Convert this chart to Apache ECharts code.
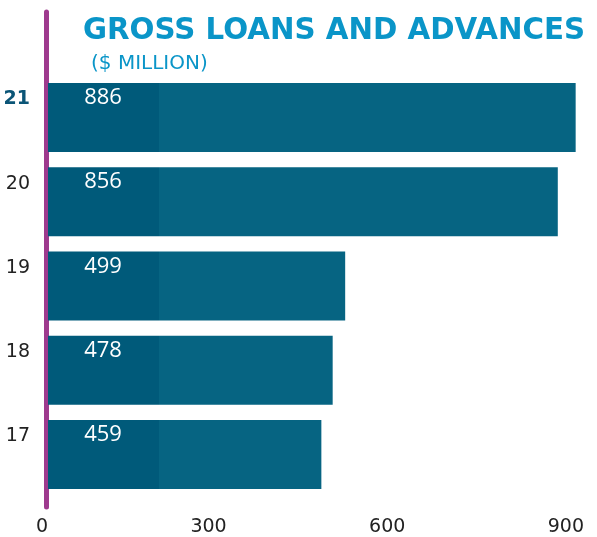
<!DOCTYPE html>
<html>
<head>
<meta charset="utf-8">
<title>Gross Loans and Advances</title>
<script src="https://cdn.jsdelivr.net/npm/echarts@6/dist/echarts.min.js"></script>
<style>
  html, body { margin: 0; padding: 0; background: #ffffff; }
  #chart { width: 597px; height: 537px; }
</style>
</head>
<body>
<div id="chart"></div>
<script>
// Financial years (bottom to top) and gross loans in $ million
const years = ['17', '18', '19', '20', '21'];
const loans = [459, 478, 499, 856, 886];
const latestYear = '21';

// Value axis range
const axisMin = 0;
const axisMax = 900;
const axisStep = 300;

const mainBlue = '#066482';
const darkBlue = '#005a7a';
const titleBlue = '#0a95c8';
const accent = '#9e3a8e';
const font = 'DejaVu Sans';

const chart = echarts.init(document.getElementById('chart'), null, { renderer: 'canvas' });

// Bars have a darker band at their base, drawn with a hard-stop gradient
const barFill = new echarts.graphic.LinearGradient(0, 0, 597, 0, [
  { offset: 0, color: darkBlue },
  { offset: 159 / 597, color: darkBlue },
  { offset: 159 / 597, color: mainBlue },
  { offset: 1, color: mainBlue }
], true);

chart.setOption({
  animation: false,
  title: [
    {
      text: 'GROSS LOANS AND ADVANCES',
      left: 78,
      top: 12,
      textStyle: { color: titleBlue, fontFamily: font, fontWeight: 'bold', fontSize: 29.3 }
    },
    {
      text: '($ MILLION)',
      left: 86,
      top: 49,
      textStyle: { color: titleBlue, fontFamily: font, fontWeight: 'normal', fontSize: 20 }
    }
  ],
  grid: [
    { left: 48, right: 13, top: 75.4, bottom: 40.4, containLabel: false },
    { left: 46, right: 13, top: 12, bottom: 30, containLabel: false }
  ],
  xAxis: [
    {
      type: 'value',
      gridIndex: 0,
      min: axisMin,
      max: axisMax,
      interval: axisStep,
      axisLine: { show: false },
      axisTick: { show: false },
      splitLine: { show: false },
      axisLabel: {
        color: '#222222',
        fontFamily: font,
        fontSize: 19,
        margin: 21,
        align: 'right'
      }
    },
    { type: 'value', gridIndex: 1, show: false, min: 0, max: 1 }
  ],
  yAxis: [
    {
      type: 'category',
      gridIndex: 0,
      data: years,
      axisLine: { show: false },
      axisTick: { show: false },
      axisLabel: {
        margin: 18,
        padding: [0, 0, 36, 0],
        formatter: function (v) { return v === latestYear ? '{b|' + v + '}' : '{n|' + v + '}'; },
        rich: {
          b: { fontFamily: font, fontSize: 19, fontWeight: 'bold', color: '#0b5577' },
          n: { fontFamily: font, fontSize: 19, fontWeight: 'normal', color: '#222222' }
        }
      }
    },
    {
      type: 'value',
      gridIndex: 1,
      min: 0,
      max: 1,
      axisLine: { show: true, lineStyle: { color: accent, width: 5 } },
      axisTick: { show: false },
      axisLabel: { show: false },
      splitLine: { show: false }
    }
  ],
  series: [
    {
      type: 'bar',
      xAxisIndex: 0,
      yAxisIndex: 0,
      data: loans,
      barCategoryGap: '18%',
      itemStyle: { color: barFill },
      label: {
        show: true,
        position: [55, 15],
        align: 'center',
        verticalAlign: 'middle',
        color: '#ffffff',
        fontFamily: 'Open Sans',
        fontWeight: 'normal',
        fontSize: 22,
        formatter: '{c}'
      },
      z: 1
    }
  ]
});
</script>
</body>
</html>
